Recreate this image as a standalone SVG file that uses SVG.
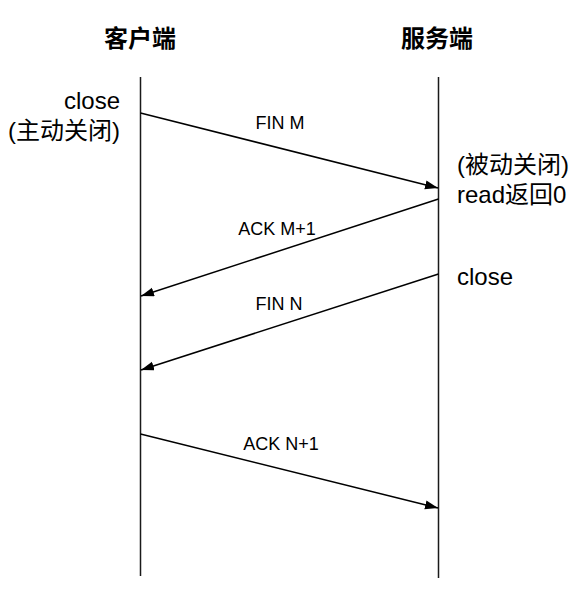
<svg xmlns="http://www.w3.org/2000/svg" width="587" height="597" viewBox="0 0 587 597">
<style>
text{font-family:"Liberation Sans","Noto Sans CJK SC",sans-serif;fill:#000}
.title{font-size:24px;font-weight:bold;text-anchor:middle}
.note{font-size:24px}
.lbl{font-size:18px;text-anchor:middle}
.life{stroke:#1a1a1a;stroke-width:1.5;fill:none}
.msg{stroke:#000;stroke-width:1.5;fill:none;marker-end:url(#arr)}
</style>
<defs>
<marker id="arr" markerUnits="userSpaceOnUse" markerWidth="14" markerHeight="10" refX="13" refY="4.5" orient="auto">
<path d="M0,0 L13,4.5 L0,9 Z" fill="#000"/>
</marker>
</defs>
<rect width="587" height="597" fill="#fff"/>
<g id="client">
<text class="title" x="140" y="47">客户端</text>
<line class="life" x1="140.5" y1="77" x2="140.5" y2="576"/>
<text class="note" x="120" y="109" text-anchor="end">close</text>
<text class="note" x="120" y="139" text-anchor="end">(主动关闭)</text>
</g>
<g id="server">
<text class="title" x="437" y="47">服务端</text>
<line class="life" x1="438.5" y1="77" x2="438.5" y2="578"/>
<text class="note" x="457" y="173">(被动关闭)</text>
<text class="note" x="457" y="203">read返回0</text>
<text class="note" x="457" y="285">close</text>
</g>
<g id="connectors">
<line class="msg" x1="140.5" y1="113" x2="438" y2="188"/>
<line class="msg" x1="438.5" y1="199" x2="141" y2="296"/>
<line class="msg" x1="438.5" y1="274" x2="141" y2="370"/>
<line class="msg" x1="140.5" y1="434" x2="438" y2="508"/>
<text class="lbl" x="280" y="129">FIN M</text>
<text class="lbl" x="277" y="235">ACK M+1</text>
<text class="lbl" x="279" y="310">FIN N</text>
<text class="lbl" x="281" y="450">ACK N+1</text>
</g>
</svg>
